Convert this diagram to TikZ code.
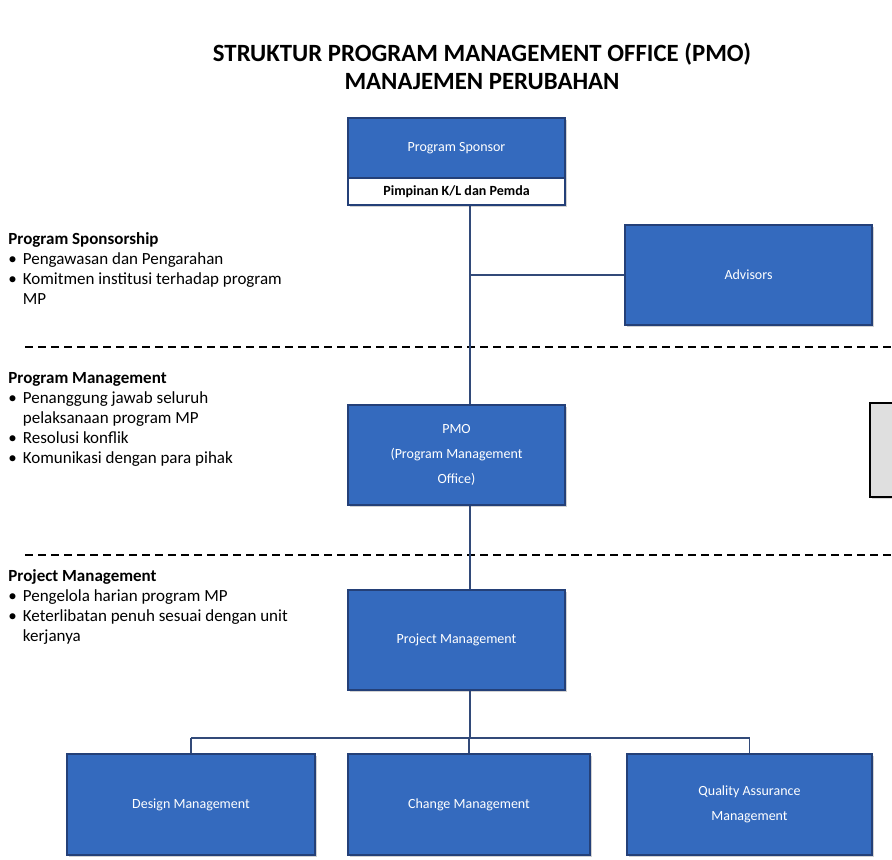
\documentclass[tikz,border=0pt]{standalone}
\usepackage{fontspec}
\setmainfont{Carlito}
\usetikzlibrary{shadows}
\definecolor{boxblue}{RGB}{52,106,190}
\definecolor{boxedge}{RGB}{36,64,120}
\newcommand\itm{\textbullet\hspace{3pt}}
\newcommand\itmgap{\hphantom{\textbullet\hspace{3pt}}}

\begin{document}
\begin{tikzpicture}[x=0.5pt,y=-0.5pt,
  bluebox/.style={draw=boxedge, line width=0.8pt, fill=boxblue, text=white, align=center,
    inner sep=0pt, font=\fontsize{7}{12.5}\selectfont,
    drop shadow={opacity=0.35,shadow xshift=0.8pt,shadow yshift=-0.8pt}},
  note/.style={anchor=north west, inner sep=0pt, align=left, font=\fontsize{8.5}{10}\selectfont},
  sep/.style={black, line width=1.3pt, dash pattern=on 4pt off 2.5pt},
  link/.style={draw=boxedge!85!gray, line width=0.6pt}]
\clip (0,0) rectangle (892,859);
\fill[white] (0,0) rectangle (892,859);
\coordinate (spine) at (470,0);

% title
\node[align=center, font=\fontsize{12.4}{14}\selectfont\bfseries] (title) at (482,66)
  {STRUKTUR PROGRAM MANAGEMENT OFFICE (PMO)\\MANAJEMEN PERUBAHAN};

% left notes
\node[note] (n1) at (8,232) {\textbf{Program Sponsorship}\\
  \itm Pengawasan dan Pengarahan\\
  \itm Komitmen institusi terhadap program\\
  \itmgap MP};
\node[note] (n2) at (8,372) {\textbf{Program Management}\\
  \itm Penanggung jawab seluruh\\
  \itmgap pelaksanaan program MP\\
  \itm Resolusi konflik\\
  \itm Komunikasi dengan para pihak};
\node[note] (n3) at (8,569) {\textbf{Project Management}\\
  \itm Pengelola harian program MP\\
  \itm Keterlibatan penuh sesuai dengan unit\\
  \itmgap kerjanya};

% boxes
\node[bluebox, minimum width=108.5pt, minimum height=30pt] (sponsor) at (456.5,148) {Program Sponsor};
\node[bluebox, fill=white, text=black, minimum width=108.5pt, minimum height=13.5pt,
  font=\fontsize{7}{9}\selectfont\bfseries] (pimpinan) at (456.5,191.5) {Pimpinan K/L dan Pemda};
\node[bluebox, minimum width=123.5pt, minimum height=50pt] (advisors) at (748.5,275) {Advisors};
\node[bluebox, minimum width=108.5pt, minimum height=50pt] (pmo) at (456.5,455)
  {PMO\\(Program Management\\Office)};
\node[draw=black, line width=1.2pt, fill=gray!25, minimum width=50pt, minimum height=47pt,
  drop shadow={opacity=0.3,shadow xshift=0.8pt,shadow yshift=-0.8pt}] (blank) at (920,450) {};
\node[bluebox, minimum width=108.5pt, minimum height=50pt] (projmgmt) at (456.5,640) {Project Management};
\node[bluebox, minimum width=124pt, minimum height=50.5pt] (design) at (191,804.5) {Design Management};
\node[bluebox, minimum width=121pt, minimum height=50.5pt] (change) at (469,804.5) {Change Management};
\node[bluebox, minimum width=122.5pt, minimum height=50.5pt] (qa) at (749.5,804.5) {Quality Assurance\\Management};

% separators
\draw[sep] (25,347) -- (892,347);
\draw[sep] (25,555) -- (892,555);

% connectors
\coordinate (bus) at (0,738);
\draw[link] (pimpinan.south -| spine) -- (pmo.north -| spine);
\draw[link] (spine |- advisors.west) -- (advisors.west);
\draw[link] (pmo.south -| spine) -- (projmgmt.north -| spine);
\draw[link] (projmgmt.south -| spine) -- (spine |- bus);
\draw[link] (design.north |- bus) -- (qa.north |- bus);
\draw[link] (design.north |- bus) -- (design.north);
\draw[link] (change.north |- bus) -- (change.north);
\draw[link] (qa.north |- bus) -- (qa.north);
\end{tikzpicture}
\end{document}
